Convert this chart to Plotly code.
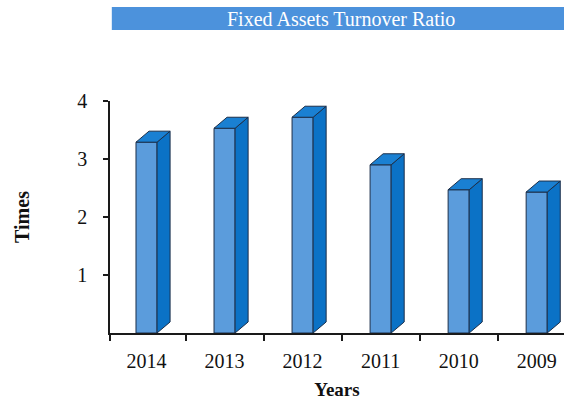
import plotly.graph_objects as go

# Fixed assets turnover ratio by year
years = ["2014", "2013", "2012", "2011", "2010", "2009"]
ratio = [3.29, 3.53, 3.72, 2.90, 2.47, 2.43]

FRONT = "#5b9cdc"
SIDE = "#0b72c6"
TOP = "#1a80d2"
EDGE = "#1c2f4a"

pos = list(range(len(years)))
w = 0.27      # front face width (x units)
dx = 0.167    # depth offset along x
dy = 0.19     # depth offset along y

# side and top faces of the pseudo-3D columns, built from the values
side_x, side_y, top_x, top_y = [], [], [], []
for p, v in zip(pos, ratio):
    r = p + w / 2
    l = p - w / 2
    side_x += [r, r + dx, r + dx, r, r, None]
    side_y += [0, dy, v + dy, v, 0, None]
    top_x += [l, r, r + dx, l + dx, l, None]
    top_y += [v, v, v + dy, v + dy, v, None]

fig = go.Figure()
fig.add_trace(go.Scatter(x=side_x, y=side_y, mode="lines", fill="toself",
                         fillcolor=SIDE, line=dict(color=EDGE, width=1),
                         hoverinfo="skip", showlegend=False))
fig.add_trace(go.Scatter(x=top_x, y=top_y, mode="lines", fill="toself",
                         fillcolor=TOP, line=dict(color=EDGE, width=1),
                         hoverinfo="skip", showlegend=False))
fig.add_trace(go.Bar(x=pos, y=ratio, width=w,
                     marker=dict(color=FRONT, line=dict(color=EDGE, width=1)),
                     showlegend=False))

x0 = -0.468
fig.update_layout(
    width=564, height=401,
    margin=dict(l=110, r=0, t=101, b=68),
    paper_bgcolor="white", plot_bgcolor="white",
    font=dict(family="Liberation Serif", color="#111111"),
    xaxis=dict(
        range=[x0, 5.35], tickvals=pos, ticktext=years,
        ticks="", showline=True, linecolor="#1a1a1a", linewidth=1.5,
        showgrid=False, zeroline=False,
        tickfont=dict(size=20), ticklabelstandoff=9,
        minor=dict(tickvals=[x0] + [p + 0.5 for p in pos[:-1]],
                   ticks="outside", ticklen=6, tickcolor="#1a1a1a", tickwidth=1.5),
        title=dict(text="<b>Years</b>", font=dict(size=19), standoff=12),
    ),
    yaxis=dict(
        range=[0, 4], tickvals=[1, 2, 3, 4],
        ticks="outside", ticklen=5, tickcolor="#1a1a1a", tickwidth=1.5,
        showline=True, linecolor="#1a1a1a", linewidth=1.5,
        showgrid=False, zeroline=False,
        tickfont=dict(size=20), ticklabelstandoff=12,
        title=dict(text="<b>Times</b>", font=dict(size=20), standoff=42),
    ),
    shapes=[dict(type="rect", xref="paper", yref="paper",
                 x0=0.004, x1=1.0, y0=(333 - 30) / 232, y1=(333 - 7) / 232,
                 fillcolor="#4c92dc", line=dict(width=0), layer="below")],
    annotations=[dict(text="Fixed Assets Turnover Ratio", xref="paper", yref="paper",
                      x=0.509, y=(333 - 18.5) / 232, xanchor="center", yanchor="middle",
                      showarrow=False,
                      font=dict(size=20, color="white", family="Liberation Serif"))],
)

fig.write_html("out.html")
